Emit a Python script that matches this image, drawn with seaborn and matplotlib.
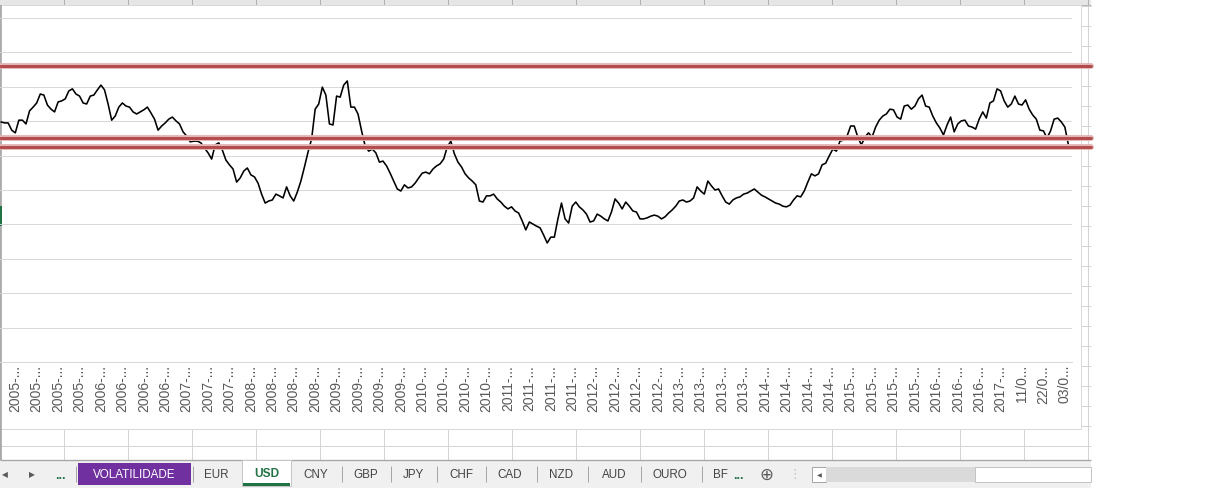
import matplotlib
matplotlib.use("Agg")
import matplotlib.pyplot as plt
import seaborn as sns
import pandas as pd
from matplotlib.patches import Rectangle
from matplotlib.lines import Line2D

# ---------------- data ----------------
values = [
    69.8, 69.5, 69.5, 67.4, 66.6, 70.3, 70.3, 69.2, 73.0, 74.1,
    75.3, 77.9, 77.6, 74.7, 73.5, 72.7, 75.6, 75.9, 76.5, 78.8,
    79.4, 77.9, 77.3, 75.3, 75.0, 77.3, 77.6, 79.1, 80.5, 79.1,
    75.0, 70.3, 71.5, 74.1, 75.3, 74.4, 74.1, 72.7, 72.1, 72.7,
    73.3, 74.1, 72.4, 70.6, 67.4, 68.6, 69.5, 70.6, 71.2, 70.1,
    69.2, 66.9, 65.7, 64.0, 64.2, 64.2, 63.7, 62.2, 60.8, 59.0,
    63.1, 63.7, 61.6, 58.7, 57.3, 56.1, 52.3, 53.5, 55.5, 56.4,
    54.4, 53.8, 52.0, 48.8, 46.2, 46.8, 47.1, 48.8, 48.3, 47.7,
    50.9, 48.3, 46.8, 49.4, 52.6, 56.7, 61.0, 64.8, 73.5, 75.0,
    79.9, 77.6, 69.2, 68.9, 77.3, 77.0, 80.5, 81.7, 74.1, 74.1,
    72.1, 67.2, 62.8, 61.3, 61.9, 60.8, 58.1, 58.4, 57.0, 54.9,
    52.6, 50.3, 49.7, 51.5, 50.6, 50.9, 52.0, 53.5, 54.9, 55.2,
    54.7, 56.1, 57.0, 57.6, 59.0, 62.5, 64.2, 60.5, 58.1, 56.7,
    54.7, 53.5, 52.6, 51.5, 46.8, 46.5, 48.3, 48.3, 48.8, 47.4,
    46.5, 45.3, 44.5, 45.1, 43.9, 43.3, 41.0, 38.4, 40.7, 40.1,
    39.5, 39.0, 36.9, 34.6, 36.3, 36.3, 41.6, 46.2, 41.6, 40.4,
    45.3, 46.5, 45.1, 44.2, 43.0, 40.7, 41.0, 43.0, 42.4, 41.6,
    41.0, 43.6, 47.4, 46.2, 44.5, 46.5, 45.3, 43.9, 43.6, 41.6,
    41.6, 41.9, 42.4, 42.7, 42.4, 41.6, 42.2, 43.3, 44.2, 45.3,
    46.8, 47.1, 46.5, 46.8, 47.7, 50.9, 49.7, 48.8, 52.6, 51.2,
    50.0, 50.3, 48.3, 46.5, 45.9, 47.1, 47.7, 48.0, 48.8, 49.1,
    49.7, 50.3, 49.4, 48.5, 48.0, 47.4, 46.8, 46.2, 45.9, 45.3,
    45.1, 45.6, 47.1, 48.3, 48.0, 49.7, 52.3, 54.7, 54.1, 54.7,
    57.3, 57.8, 59.9, 61.9, 61.3, 64.2, 64.5, 65.7, 68.6, 68.6,
    65.4, 63.1, 65.4, 66.6, 65.4, 68.3, 70.3, 71.5, 72.1, 73.5,
    73.3, 71.2, 70.6, 74.4, 74.7, 73.5, 74.4, 76.5, 77.6, 74.4,
    74.1, 71.5, 69.5, 68.0, 66.0, 68.9, 71.2, 66.9, 69.2, 70.1,
    70.3, 68.6, 68.3, 67.7, 70.6, 72.7, 70.9, 75.3, 75.9, 79.4,
    78.8, 75.9, 74.1, 75.0, 77.3, 75.0, 74.7, 76.2, 73.5, 71.8,
    70.6, 67.4, 67.2, 65.1, 67.2, 70.6, 70.9, 69.8, 68.3, 63.1,
    62.5,
]

tick_labels = (["2005-..."] * 4 + ["2006-..."] * 4 + ["2007-..."] * 3 +
               ["2008-..."] * 4 + ["2009-..."] * 4 + ["2010-..."] * 4 +
               ["2011-..."] * 4 + ["2012-..."] * 4 + ["2013-..."] * 4 +
               ["2014-..."] * 4 + ["2015-..."] * 4 + ["2016-..."] * 3 +
               ["2017-..."] + ["11/0...", "22/0...", "03/0..."])

ref_levels = [86.0, 65.1, 62.5]

sheet_tabs = ["EUR", "CNY", "GBP", "JPY", "CHF", "CAD", "NZD", "AUD", "OURO"]
active_tab = "USD"
highlight_tab = "VOLATILIDADE"

# ---------------- styling ----------------
sns.set_theme(style="white")
plt.rcParams["font.family"] = ["Liberation Sans", "DejaVu Sans"]

W, H = 1212, 489
fig = plt.figure(figsize=(W / 100, H / 100), dpi=100)
fig.patch.set_facecolor("white")


def fx(px):
    return px / W


def fy(py):
    return 1 - py / H


def rect(x0, y0, x1, y1, fc, ec="none", lw=0.0, z=0.0):
    fig.patches.append(Rectangle((fx(x0), fy(y1)), fx(x1) - fx(x0), fy(y0) - fy(y1),
                                 transform=fig.transFigure, facecolor=fc,
                                 edgecolor=ec, linewidth=lw * 0.72, zorder=z))


def fline(xs, ys, color, lw=1.0, z=0.2):
    fig.lines.append(Line2D([fx(x) for x in xs], [fy(y) for y in ys],
                            transform=fig.transFigure, color=color,
                            linewidth=lw * 0.72, zorder=z, solid_capstyle="butt"))


def ftext(x, y, s, color="#444444", size=8.4, weight="normal", ha="center", family=None, z=3):
    kw = {}
    if family:
        kw["family"] = family
    fig.text(fx(x), fy(y), s, color=color, fontsize=size, fontweight=weight,
             ha=ha, va="center", zorder=z, **kw)


# spreadsheet cells behind the chart
for n in range(23):
    fline([0, 1091], [7 + 20 * n] * 2, "#d4d4d4", 1, z=0.1)
for k in range(18):
    fline([64 * k] * 2, [6, 461], "#d4d4d4", 1, z=0.1)
# column header strip
rect(0, 0, 1091, 6, "#e6e6e6", z=0.3)
fline([0, 1091], [6, 6], "#b8b8b8", 1, z=0.35)
for k in range(1, 18):
    fline([64 * k] * 2, [0, 6], "#b0b0b0", 1, z=0.35)

# chart area
rect(0, 6, 1081, 430, "white", ec="#d9d9d9", lw=1, z=0.5)
fline([0.7, 0.7], [6, 461], "#9c9c9c", 1.5, z=0.6)
rect(0, 207, 2, 227, "#217346", z=0.65)

# ---------------- the chart ----------------
ax = fig.add_axes([fx(0), fy(363), fx(1072) - fx(0), (363 - 19) / H])
ax.set_zorder(1)
ax.patch.set_alpha(0)

df = pd.DataFrame({"idx": range(len(values)), "value": values})
sns.lineplot(data=df, x="idx", y="value", ax=ax, color="black", linewidth=1.15)

for lvl in ref_levels:
    ax.axhline(lvl, xmin=0, xmax=1091 / 1072, color="#e2b4b4", linewidth=4.2,
               clip_on=False, zorder=3)
    ax.axhline(lvl, xmin=0, xmax=1091 / 1072, color="#b34b4b", linewidth=2.1,
               clip_on=False, zorder=3.1)

ax.set_xlim(-0.28, len(values) - 1)
ax.set_ylim(0, 100)
ax.set_yticks(range(0, 101, 10))
ax.set_yticklabels([])
tick_pos = list(range(4, len(values), 6))[:len(tick_labels)]
ax.set_xticks(tick_pos)
ax.set_xticklabels(tick_labels)
ax.tick_params(axis="x", length=0, pad=1.4, labelsize=10, labelcolor="#595959",
               labelrotation=90)
ax.tick_params(axis="y", length=0)
ax.grid(axis="y", color="#d9d9d9", linewidth=0.75)
ax.grid(axis="x", visible=False)
for s in ["top", "left", "right"]:
    ax.spines[s].set_visible(False)
ax.spines["bottom"].set_color("#d9d9d9")
ax.spines["bottom"].set_linewidth(0.75)
ax.set_xlabel("")
ax.set_ylabel("")

# ---------------- sheet tab bar ----------------
rect(0, 461, 1091, 489, "#f0f0f0", z=2)
fline([0, 1091], [461, 461], "#a6a6a6", 1.3, z=2.1)
ftext(5, 475, "\u25c0", color="#595959", size=5.5, family="DejaVu Sans")
ftext(32, 475, "\u25b6", color="#595959", size=5.5, family="DejaVu Sans")
ftext(60, 476, "...", color="#217346", size=9, weight="bold")
rect(78, 464, 191, 486, "#7030a0", z=2.2)
ftext(134.5, 475, highlight_tab, color="white", size=8.4)
rect(242, 461, 291, 487, "white", ec="#c6c6c6", lw=1, z=2.2)
rect(243, 484, 290, 486.5, "#217346", z=2.3)
ftext(266.5, 474.5, active_tab, color="#217346", size=8.6, weight="bold")
tab_x = [216, 316, 366, 413, 461, 510, 561, 614, 670]
for name, x in zip(sheet_tabs, tab_x):
    ftext(x, 475, name)
ftext(713, 475, "BF", ha="left")
ftext(738, 476, "...", color="#217346", size=9, weight="bold")
ftext(766, 475, "\u2295", color="#595959", size=12, family="DejaVu Sans")
ftext(795, 475, "\u22ee", color="#c0c0c0", size=9, family="DejaVu Sans")
for x in [76, 193, 342, 391, 437, 486, 537, 588, 641, 702]:
    fline([x, x], [467, 483], "#a6a6a6", 1, z=2.3)
rect(812, 468, 826, 483, "white", ec="#a6a6a6", lw=1, z=2.3)
ftext(819, 475.5, "\u25c0", color="#595959", size=4.5, family="DejaVu Sans")
rect(826, 468, 975, 483, "#dadada", z=2.3)
rect(975, 468, 1091, 483, "white", ec="#c4c4c4", lw=1, z=2.3)

fig.savefig("out.png", dpi=100, facecolor="white")
